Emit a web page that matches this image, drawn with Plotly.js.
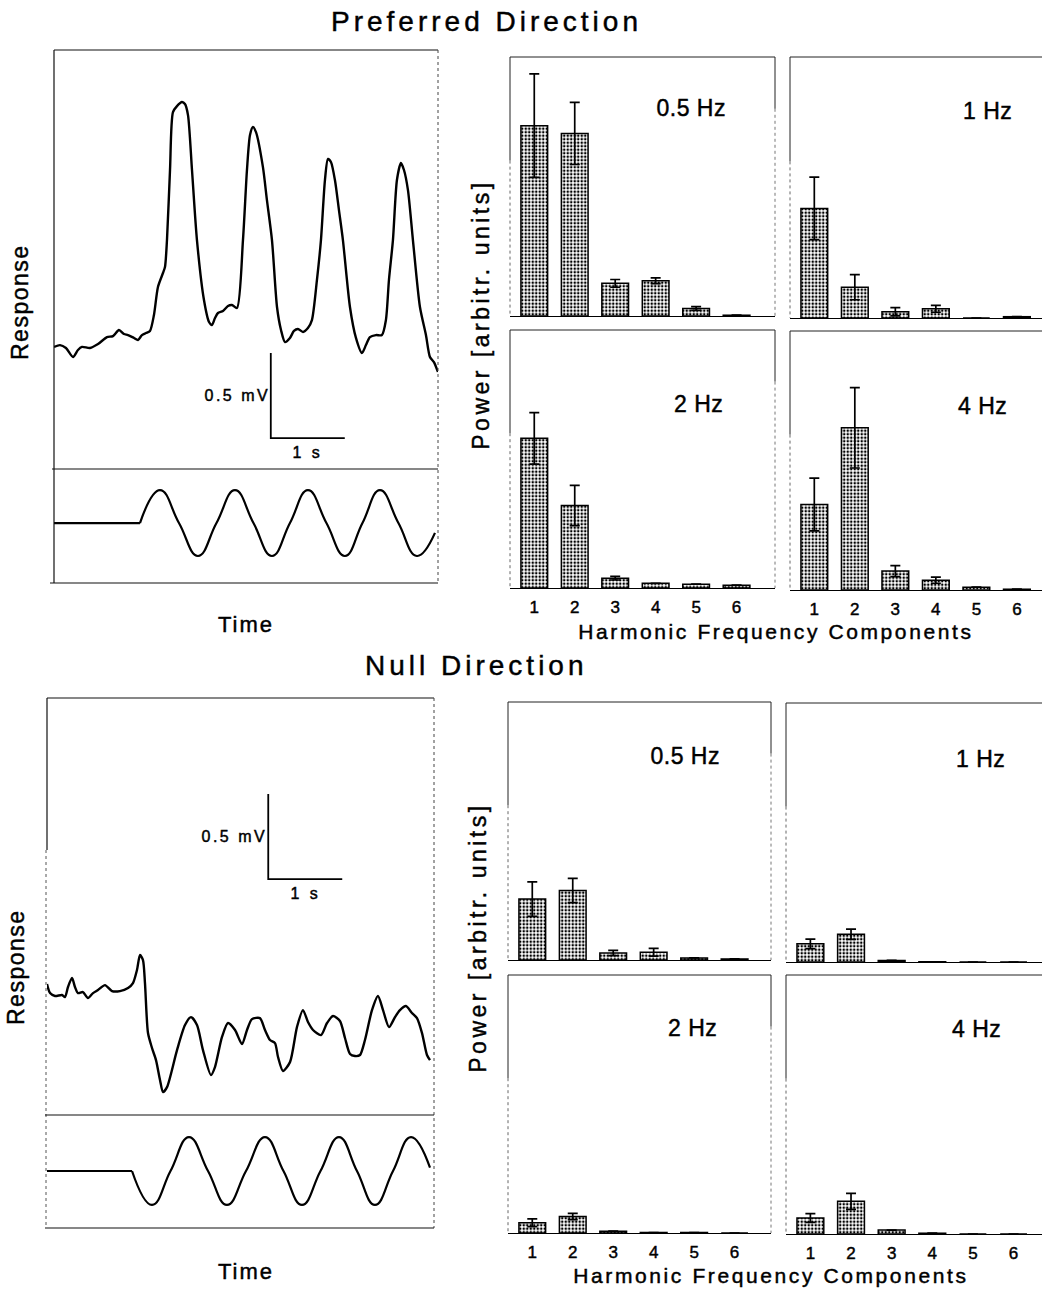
<!DOCTYPE html>
<html>
<head>
<meta charset="utf-8">
<script src="https://cdn.plot.ly/plotly-3.0.1.min.js"></script>
<style>
html,body{margin:0;padding:0;background:#fff;}
#chart{width:1042px;height:1290px;}
#chart text{stroke:#000;stroke-width:0.45px;}
</style>
</head>
<body>
<div id="chart"></div>
<script>
// ---------------- DATA ----------------
const harmonics = [1, 2, 3, 4, 5, 6];
const tickLabels = ['1', '2', '3', '4', '5', '6'];
const panelLabels = ['0.5 Hz', '1 Hz', '2 Hz', '4 Hz'];

// Power (arbitrary units, 100 = panel height) and error (+/-)
const prefPower05 = [73.5, 70.5, 12.6, 13.6, 2.9, 0.3];
const prefErr05   = [20, 12, 1.5, 1.1, 0.7, 0];
const prefPower1  = [42, 11.8, 2.4, 3.5, 0, 0.5];
const prefErr1    = [12, 4.8, 1.6, 1.3, 0, 0];
const prefPower2  = [58, 32, 3.8, 1.8, 1.5, 1.1];
const prefErr2    = [10, 7.8, 0.7, 0, 0, 0];
const prefPower4  = [33, 62.6, 7.3, 3.8, 1.1, 0.3];
const prefErr4    = [10.2, 15.5, 2.1, 1.2, 0, 0];

const nullPower05 = [23.6, 26.9, 2.7, 3.0, 0.8, 0.4];
const nullErr05   = [6.7, 4.7, 1.0, 1.5, 0, 0];
const nullPower1  = [7.0, 10.7, 0.6, 0.1, 0, 0];
const nullErr1    = [1.8, 2.0, 0, 0, 0, 0];
const nullPower2  = [4.0, 6.4, 0.7, 0.2, 0.2, 0];
const nullErr2    = [1.5, 1.2, 0, 0, 0, 0];
const nullPower4  = [6.2, 12.6, 1.5, 0.3, 0, 0];
const nullErr4    = [1.7, 3.1, 0, 0, 0, 0];

// Preferred direction response (time s, mV)
const prefRespT = [0.000,0.081,0.162,0.257,0.324,0.378,0.486,0.595,0.716,0.797,0.878,0.946,1.000,1.081,1.135,1.189,1.243,1.297,1.351,1.405,1.473,1.500,1.527,1.568,1.608,1.662,1.730,1.770,1.811,1.865,1.932,2.027,2.095,2.135,2.176,2.216,2.284,2.351,2.405,2.473,2.554,2.608,2.649,2.689,2.730,2.824,2.878,2.946,3.014,3.068,3.122,3.189,3.243,3.297,3.365,3.432,3.486,3.554,3.608,3.662,3.703,3.743,3.797,3.851,3.905,4.000,4.081,4.162,4.216,4.270,4.351,4.432,4.486,4.527,4.581,4.635,4.689,4.730,4.784,4.851,4.946,5.027,5.081,5.135,5.189];
const prefRespV = [0.018,0.029,0.012,-0.041,0.000,0.018,0.012,0.035,0.076,0.082,0.118,0.094,0.088,0.071,0.059,0.088,0.100,0.112,0.206,0.371,0.453,0.488,0.647,1.059,1.400,1.435,1.459,1.447,1.382,1.059,0.647,0.294,0.165,0.147,0.188,0.218,0.229,0.259,0.265,0.247,0.647,1.059,1.265,1.312,1.282,1.076,0.882,0.647,0.253,0.118,0.047,0.071,0.112,0.124,0.106,0.129,0.176,0.412,0.647,1.000,1.124,1.106,1.000,0.824,0.647,0.253,0.071,-0.018,0.029,0.076,0.088,0.088,0.176,0.412,0.647,1.000,1.100,1.059,0.941,0.647,0.253,0.088,-0.041,-0.071,-0.129];

// Preferred direction stimulus (time s, relative position)
const prefStimT = [0, 1.162, 1.432, 1.689, 1.946, 2.196, 2.446, 2.696, 2.946, 3.189, 3.432, 3.682, 3.932, 4.169, 4.405, 4.655, 4.905, 5.149];
const prefStimV = [0, 0, 1, 0, -1, 0, 1, 0, -1, 0, 1, 0, -1, 0, 1, 0, -1, -0.3];

// Null direction response (time s, mV)
const nullRespT = [0.000,0.041,0.108,0.203,0.243,0.284,0.338,0.378,0.419,0.486,0.554,0.622,0.689,0.784,0.878,0.986,1.095,1.162,1.216,1.257,1.297,1.324,1.365,1.419,1.473,1.527,1.568,1.622,1.757,1.865,1.946,2.027,2.108,2.216,2.270,2.365,2.446,2.541,2.635,2.703,2.770,2.878,2.946,3.014,3.081,3.122,3.189,3.284,3.378,3.459,3.527,3.595,3.703,3.784,3.865,3.959,4.027,4.095,4.162,4.230,4.297,4.392,4.473,4.541,4.622,4.703,4.770,4.851,4.932,5.000,5.068,5.135,5.176];
const nullRespV = [0.035,-0.018,-0.035,-0.029,-0.041,0.018,0.071,0.018,-0.018,-0.012,-0.047,-0.018,0.000,0.029,-0.006,-0.006,0.012,0.041,0.118,0.206,0.176,0.041,-0.253,-0.341,-0.412,-0.529,-0.600,-0.571,-0.353,-0.206,-0.159,-0.206,-0.353,-0.500,-0.453,-0.276,-0.194,-0.235,-0.318,-0.235,-0.171,-0.165,-0.235,-0.294,-0.312,-0.394,-0.476,-0.424,-0.218,-0.118,-0.188,-0.235,-0.265,-0.194,-0.153,-0.182,-0.282,-0.376,-0.388,-0.382,-0.294,-0.118,-0.035,-0.118,-0.218,-0.159,-0.118,-0.094,-0.135,-0.165,-0.253,-0.382,-0.412];

// Null direction stimulus
const nullStimT = [0, 1.149, 1.419, 1.669, 1.919, 2.176, 2.432, 2.689, 2.946, 3.196, 3.446, 3.696, 3.946, 4.189, 4.432, 4.676, 4.919, 5.176];
const nullStimV = [0, 0, -1, 0, 1, 0, -1, 0, 1, 0, -1, 0, 1, 0, -1, 0, 1, 0.1];

// Scale bars
const scaleTime = 1;      // s
const scaleVolt = 0.5;    // mV
const prefScaleOrigin = [2.93, -0.518];
const nullScaleOrigin = [2.99, 0.653];

// ---------------- LAYOUT HELPERS ----------------
const W = 1042, H = 1290;
const FONT = 'Liberation Sans, Arial, Helvetica, sans-serif';
const px = v => v / W;
const py = v => 1 - v / H;

const traces = [];

function addTrace(t, v, xa, ya, smooth, width) {
  traces.push({type: 'scatter', mode: 'lines', x: t, y: v, xaxis: xa, yaxis: ya,
    line: smooth ? {color: '#000', width: width, shape: 'spline', smoothing: smooth}
                 : {color: '#000', width: width},
    hoverinfo: 'skip'});
}
// responses
addTrace(prefRespT, prefRespV, 'x', 'y', 0.7, 2.4);
addTrace(nullRespT, nullRespV, 'x3', 'y3', 0.7, 2.4);
// stimuli: flat part + sinusoid part
addTrace(prefStimT.slice(0, 2), prefStimV.slice(0, 2), 'x2', 'y2', 0, 2.2);
addTrace(prefStimT.slice(1), prefStimV.slice(1), 'x2', 'y2', 1.3, 2.2);
addTrace(nullStimT.slice(0, 2), nullStimV.slice(0, 2), 'x4', 'y4', 0, 2.2);
addTrace(nullStimT.slice(1), nullStimV.slice(1), 'x4', 'y4', 1.3, 2.2);

// scale bars
function scaleBar(o, xa, ya) {
  traces.push({type: 'scatter', mode: 'lines', xaxis: xa, yaxis: ya,
    x: [o[0], o[0], o[0] + scaleTime], y: [o[1] + scaleVolt, o[1], o[1]],
    line: {color: '#000', width: 1.8}, hoverinfo: 'skip'});
}
scaleBar(prefScaleOrigin, 'x', 'y');
scaleBar(nullScaleOrigin, 'x3', 'y3');

// bar panels
const barSets = [
  [prefPower05, prefErr05], [prefPower1, prefErr1], [prefPower2, prefErr2], [prefPower4, prefErr4],
  [nullPower05, nullErr05], [nullPower1, nullErr1], [nullPower2, nullErr2], [nullPower4, nullErr4]
];
barSets.forEach((s, i) => {
  const n = i + 5;
  traces.push({type: 'bar', x: harmonics, y: s[0], width: 0.66,
    xaxis: 'x' + n, yaxis: 'y' + n,
    marker: {color: '#fff', line: {color: '#000', width: 1.5},
      pattern: {shape: '.', fgcolor: '#000', bgcolor: '#fff', size: 3.5, solidity: 0.42}},
    error_y: {type: 'data', array: s[1], symmetric: true, visible: true, color: '#000', thickness: 1.7, width: 5},
    hoverinfo: 'skip'});
});

// panel geometry in pixels: [left, right, top, bottom, xmin, xmax, showTicks]
const barPanels = [
  [510, 775, 57, 316, 0.4, 6.95, false],
  [790, 1042, 57, 318, 0.4, 6.62, false],
  [510, 775, 330, 588, 0.4, 6.95, true],
  [790, 1042, 331, 590, 0.4, 6.62, true],
  [508, 771, 702, 960, 0.4, 6.9, false],
  [786, 1042, 703, 962, 0.4, 6.7, false],
  [508, 771, 975, 1233, 0.4, 6.9, true],
  [786, 1042, 975, 1234, 0.4, 6.7, true]
];

const layout = {
  width: W, height: H, margin: {l: 0, r: 0, t: 0, b: 0},
  paper_bgcolor: '#fff', plot_bgcolor: 'rgba(0,0,0,0)', showlegend: false,
  font: {family: FONT, color: '#000'},
  xaxis:  {domain: [px(54), px(438)], range: [0, 5.19], visible: false, anchor: 'y'},
  yaxis:  {domain: [py(469), py(50)], range: [-0.70, 1.765], visible: false, anchor: 'x'},
  xaxis2: {domain: [px(54), px(438)], range: [0, 5.19], visible: false, anchor: 'y2'},
  yaxis2: {domain: [py(583), py(469)], range: [-1.82, 1.64], visible: false, anchor: 'x2'},
  xaxis3: {domain: [px(47), px(434)], range: [0, 5.23], visible: false, anchor: 'y3'},
  yaxis3: {domain: [py(1115), py(698)], range: [-0.735, 1.718], visible: false, anchor: 'x3'},
  xaxis4: {domain: [px(47), px(434)], range: [0, 5.23], visible: false, anchor: 'y4'},
  yaxis4: {domain: [py(1228), py(1115)], range: [-1.68, 1.65], visible: false, anchor: 'x4'},
  shapes: [], annotations: []
};

const shapes = layout.shapes;
function seg(x0, y0, x1, y1, dash, width, color) {
  shapes.push({type: 'line', xref: 'paper', yref: 'paper', x0: px(x0), y0: py(y0), x1: px(x1), y1: py(y1),
    line: {color: color || '#111', width: width || 1.2, dash: dash || 'solid'}});
}
// left trace boxes
seg(54, 50, 438, 50); seg(54, 50, 54, 583); seg(438, 50, 438, 583, 'dot', 1, '#444');
seg(52, 469, 438, 469); seg(50, 583, 438, 583);
seg(47, 698, 434, 698); seg(47, 698, 47, 850); seg(46, 850, 46, 1228, 'dot', 1, '#555');
seg(434, 698, 434, 1228, 'dot', 1, '#444');
seg(45, 1115, 434, 1115); seg(45, 1228, 434, 1228);

barPanels.forEach((p, i) => {
  const n = i + 5;
  layout['xaxis' + n] = {domain: [px(p[0]), px(p[1])], range: [p[4], p[5]], anchor: 'y' + n,
    showline: true, linecolor: '#000', linewidth: 1.3, ticks: 'outside', ticklen: 3,
    tickcolor: 'rgba(0,0,0,0)', tickvals: harmonics, ticktext: tickLabels,
    showticklabels: p[6], tickfont: {size: 17, color: '#000', family: FONT},
    showgrid: false, zeroline: false, fixedrange: true};
  layout['yaxis' + n] = {domain: [py(p[3]), py(p[2])], range: [0, 100], anchor: 'x' + n,
    visible: false, fixedrange: true};
  // frame: top solid, sides partial
  const xr = 'x' + n + ' domain', yr = 'y' + n + ' domain';
  shapes.push({type: 'line', xref: xr, yref: yr, x0: 0, x1: 1, y0: 1, y1: 1, line: {color: '#222', width: 1}});
  shapes.push({type: 'line', xref: xr, yref: yr, x0: 0, x1: 0, y0: 1, y1: 0.6, line: {color: '#222', width: 1}});
  shapes.push({type: 'line', xref: xr, yref: yr, x0: 0, x1: 0, y0: 0.6, y1: 0, line: {color: '#666', width: 1, dash: 'dot'}});
  if (p[1] < 1000) {
    shapes.push({type: 'line', xref: xr, yref: yr, x0: 1, x1: 1, y0: 1, y1: 0.8, line: {color: '#222', width: 1}});
    shapes.push({type: 'line', xref: xr, yref: yr, x0: 1, x1: 1, y0: 0.8, y1: 0, line: {color: '#777', width: 1, dash: 'dot'}});
  }
});

// texts: [text, x, y, size, letterSpacing, angle]
const texts = [
  ['Preferred Direction', 486, 21, 28, 4, 0],
  ['Null Direction', 476, 665, 28, 4, 0],
  ['Response', 20, 302, 23, 1.5, -90],
  ['Response', 16, 967, 23, 1.5, -90],
  ['Time', 246, 624, 22, 2, 0],
  ['Time', 246, 1271, 22, 2, 0],
  ['Power [arbitr. units]', 481, 315, 23, 3.5, -90],
  ['Power [arbitr. units]', 478, 938, 23, 3.5, -90],
  ['Harmonic Frequency Components', 776, 631, 21, 2.6, 0],
  ['Harmonic Frequency Components', 771, 1275, 21, 2.6, 0],
  [panelLabels[0], 691, 108, 23, 0.5, 0],
  [panelLabels[1], 987, 111, 23, 0.5, 0],
  [panelLabels[2], 698, 404, 23, 0.5, 0],
  [panelLabels[3], 982, 406, 23, 0.5, 0],
  [panelLabels[0], 685, 756, 23, 0.5, 0],
  [panelLabels[1], 980, 759, 23, 0.5, 0],
  [panelLabels[2], 692, 1028, 23, 0.5, 0],
  [panelLabels[3], 976, 1029, 23, 0.5, 0]
];
const spacing = [];
texts.forEach(t => {
  layout.annotations.push({xref: 'paper', yref: 'paper', x: px(t[1]), y: py(t[2]), text: t[0],
    showarrow: false, xanchor: 'center', yanchor: 'middle', textangle: t[5],
    font: {size: t[3], color: '#000', family: FONT}});
  spacing.push(t[4]);
});
// scale bar labels in data coordinates
[[prefScaleOrigin, 'x', 'y'], [nullScaleOrigin, 'x3', 'y3']].forEach(s => {
  const o = s[0];
  layout.annotations.push({xref: s[1], yref: s[2], x: o[0], y: o[1] + scaleVolt / 2,
    text: scaleVolt + ' mV', showarrow: false, xanchor: 'right', yanchor: 'middle', xshift: -6,
    font: {size: 16, color: '#000', family: FONT}});
  spacing.push(2.5);
  layout.annotations.push({xref: s[1], yref: s[2], x: o[0] + scaleTime / 2, y: o[1],
    text: scaleTime + ' s', showarrow: false, xanchor: 'center', yanchor: 'top', yshift: -4,
    font: {size: 16, color: '#000', family: FONT}});
  spacing.push(3);
});

Plotly.newPlot('chart', traces, layout, {staticPlot: true, responsive: false}).then(gd => {
  gd.querySelectorAll('g.annotation').forEach(g => {
    const i = +g.getAttribute('data-index');
    const t = g.querySelector('text');
    if (t && spacing[i]) t.style.letterSpacing = spacing[i] + 'px';
  });
});
</script>
</body>
</html>
